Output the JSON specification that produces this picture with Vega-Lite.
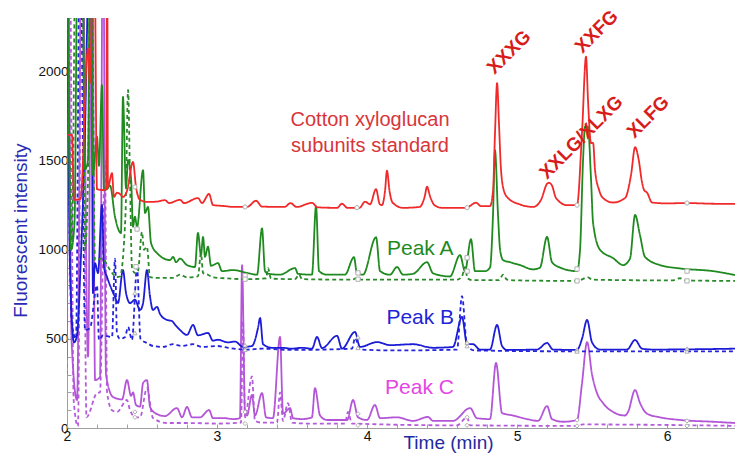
{
"$schema":"https://vega.github.io/schema/vega-lite/v6.json",
"width":668,"height":410,
"autosize":{"type":"none"},
"padding":{"left":67,"top":18,"right":0,"bottom":25},
"background":"white",
"config":{"view":{"stroke":null},"font":"Liberation Sans"},
"datasets":{
"lines":[
{"s":"c","t":2.0,"y":300},{"s":"c","t":2.015,"y":3000},{"s":"c","t":2.045,"y":150},{"s":"c","t":2.073,"y":10},{"s":"c","t":2.1,"y":3000},{"s":"c","t":2.13,"y":60},{"s":"c","t":2.2,"y":196},{"s":"c","t":2.22,"y":200},{"s":"c","t":2.253,"y":1500},{"s":"c","t":2.267,"y":200},{"s":"c","t":2.3,"y":100},{"s":"c","t":2.333,"y":90},{"s":"c","t":2.4,"y":157},{"s":"c","t":2.42,"y":100},{"s":"c","t":2.46,"y":60},{"s":"c","t":2.487,"y":60},{"s":"c","t":2.533,"y":224},{"s":"c","t":2.573,"y":56},{"s":"c","t":2.667,"y":28},{"s":"c","t":2.8,"y":28},{"s":"c","t":3.0,"y":25},{"s":"c","t":3.16,"y":30},{"s":"c","t":3.173,"y":600},{"s":"c","t":3.187,"y":60},{"s":"c","t":3.233,"y":290},{"s":"c","t":3.253,"y":40},{"s":"c","t":3.3,"y":30},{"s":"c","t":3.4,"y":30},{"s":"c","t":3.42,"y":200},{"s":"c","t":3.44,"y":40},{"s":"c","t":3.473,"y":140},{"s":"c","t":3.5,"y":30},{"s":"c","t":3.6,"y":25},{"s":"c","t":3.853,"y":25},{"s":"c","t":3.873,"y":90},{"s":"c","t":3.9,"y":25},{"s":"c","t":4.6,"y":15},{"s":"c","t":4.667,"y":60},{"s":"c","t":4.687,"y":15},{"s":"c","t":5.4,"y":12},{"s":"c","t":5.44,"y":20},{"s":"c","t":6.453,"y":12},
{"s":"C","t":2.0,"y":400},{"s":"C","t":2.005,"y":3000},{"s":"C","t":2.03,"y":500},{"s":"C","t":2.067,"y":157},{"s":"C","t":2.1,"y":3000},{"s":"C","t":2.14,"y":400},{"s":"C","t":2.167,"y":3000},{"s":"C","t":2.187,"y":269},{"s":"C","t":2.22,"y":285},{"s":"C","t":2.24,"y":3000},{"s":"C","t":2.26,"y":300},{"s":"C","t":2.307,"y":174},{"s":"C","t":2.367,"y":160},{"s":"C","t":2.4,"y":269},{"s":"C","t":2.427,"y":180},{"s":"C","t":2.44,"y":200},{"s":"C","t":2.46,"y":129},{"s":"C","t":2.487,"y":120},{"s":"C","t":2.507,"y":252},{"s":"C","t":2.533,"y":269},{"s":"C","t":2.553,"y":120},{"s":"C","t":2.587,"y":84},{"s":"C","t":2.653,"y":67},{"s":"C","t":2.733,"y":112},{"s":"C","t":2.767,"y":60},{"s":"C","t":2.8,"y":118},{"s":"C","t":2.833,"y":60},{"s":"C","t":2.887,"y":60},{"s":"C","t":2.947,"y":101},{"s":"C","t":2.973,"y":55},{"s":"C","t":3.053,"y":55},{"s":"C","t":3.107,"y":50},{"s":"C","t":3.153,"y":55},{"s":"C","t":3.167,"y":914},{"s":"C","t":3.187,"y":80},{"s":"C","t":3.2,"y":70},{"s":"C","t":3.233,"y":185},{"s":"C","t":3.253,"y":70},{"s":"C","t":3.3,"y":196},{"s":"C","t":3.327,"y":60},{"s":"C","t":3.373,"y":55},{"s":"C","t":3.42,"y":511},{"s":"C","t":3.44,"y":80},{"s":"C","t":3.487,"y":112},{"s":"C","t":3.507,"y":55},{"s":"C","t":3.567,"y":50},{"s":"C","t":3.633,"y":60},{"s":"C","t":3.653,"y":224},{"s":"C","t":3.687,"y":70},{"s":"C","t":3.733,"y":45},{"s":"C","t":3.867,"y":45},{"s":"C","t":3.907,"y":157},{"s":"C","t":3.94,"y":60},{"s":"C","t":4.0,"y":45},{"s":"C","t":4.053,"y":129},{"s":"C","t":4.087,"y":55},{"s":"C","t":4.2,"y":60},{"s":"C","t":4.307,"y":40},{"s":"C","t":4.407,"y":62},{"s":"C","t":4.44,"y":40},{"s":"C","t":4.573,"y":40},{"s":"C","t":4.687,"y":112},{"s":"C","t":4.733,"y":55},{"s":"C","t":4.82,"y":50},{"s":"C","t":4.86,"y":365},{"s":"C","t":4.9,"y":84},{"s":"C","t":4.973,"y":70},{"s":"C","t":5.067,"y":50},{"s":"C","t":5.14,"y":40},{"s":"C","t":5.2,"y":123},{"s":"C","t":5.233,"y":50},{"s":"C","t":5.307,"y":35},{"s":"C","t":5.4,"y":45},{"s":"C","t":5.433,"y":250},{"s":"C","t":5.467,"y":482},{"s":"C","t":5.5,"y":300},{"s":"C","t":5.533,"y":196},{"s":"C","t":5.573,"y":140},{"s":"C","t":5.64,"y":90},{"s":"C","t":5.72,"y":70},{"s":"C","t":5.74,"y":90},{"s":"C","t":5.787,"y":213},{"s":"C","t":5.82,"y":140},{"s":"C","t":5.867,"y":80},{"s":"C","t":5.953,"y":60},{"s":"C","t":6.087,"y":45},{"s":"C","t":6.307,"y":35},{"s":"C","t":6.453,"y":28},
{"s":"b","t":2.0,"y":3000},{"s":"b","t":2.03,"y":600},{"s":"b","t":2.06,"y":500},{"s":"b","t":2.087,"y":3000},{"s":"b","t":2.12,"y":550},{"s":"b","t":2.153,"y":560},{"s":"b","t":2.2,"y":800},{"s":"b","t":2.213,"y":494},{"s":"b","t":2.24,"y":520},{"s":"b","t":2.3,"y":510},{"s":"b","t":2.32,"y":950},{"s":"b","t":2.333,"y":533},{"s":"b","t":2.353,"y":500},{"s":"b","t":2.387,"y":510},{"s":"b","t":2.407,"y":567},{"s":"b","t":2.433,"y":494},{"s":"b","t":2.467,"y":900},{"s":"b","t":2.49,"y":500},{"s":"b","t":2.533,"y":477},{"s":"b","t":2.573,"y":460},{"s":"b","t":2.64,"y":455},{"s":"b","t":2.707,"y":470},{"s":"b","t":2.767,"y":460},{"s":"b","t":2.84,"y":470},{"s":"b","t":2.9,"y":455},{"s":"b","t":3.0,"y":460},{"s":"b","t":3.073,"y":450},{"s":"b","t":3.2,"y":440},{"s":"b","t":3.3,"y":445},{"s":"b","t":3.5,"y":438},{"s":"b","t":3.9,"y":445},{"s":"b","t":3.92,"y":505},{"s":"b","t":3.953,"y":440},{"s":"b","t":4.2,"y":435},{"s":"b","t":4.6,"y":440},{"s":"b","t":4.633,"y":740},{"s":"b","t":4.667,"y":460},{"s":"b","t":4.72,"y":435},{"s":"b","t":5.4,"y":430},{"s":"b","t":6.453,"y":430},
{"s":"B","t":2.0,"y":3000},{"s":"B","t":2.02,"y":900},{"s":"B","t":2.047,"y":480},{"s":"B","t":2.067,"y":520},{"s":"B","t":2.09,"y":900},{"s":"B","t":2.115,"y":1500},{"s":"B","t":2.16,"y":3000},{"s":"B","t":2.173,"y":757},{"s":"B","t":2.187,"y":925},{"s":"B","t":2.207,"y":869},{"s":"B","t":2.233,"y":1251},{"s":"B","t":2.247,"y":900},{"s":"B","t":2.267,"y":847},{"s":"B","t":2.32,"y":735},{"s":"B","t":2.34,"y":701},{"s":"B","t":2.373,"y":886},{"s":"B","t":2.393,"y":760},{"s":"B","t":2.42,"y":701},{"s":"B","t":2.453,"y":720},{"s":"B","t":2.487,"y":662},{"s":"B","t":2.507,"y":700},{"s":"B","t":2.533,"y":886},{"s":"B","t":2.553,"y":740},{"s":"B","t":2.573,"y":662},{"s":"B","t":2.6,"y":680},{"s":"B","t":2.62,"y":640},{"s":"B","t":2.667,"y":606},{"s":"B","t":2.7,"y":600},{"s":"B","t":2.72,"y":580},{"s":"B","t":2.753,"y":550},{"s":"B","t":2.8,"y":522},{"s":"B","t":2.84,"y":578},{"s":"B","t":2.873,"y":520},{"s":"B","t":2.94,"y":533},{"s":"B","t":2.973,"y":490},{"s":"B","t":3.007,"y":495},{"s":"B","t":3.073,"y":480},{"s":"B","t":3.12,"y":485},{"s":"B","t":3.173,"y":455},{"s":"B","t":3.233,"y":460},{"s":"B","t":3.273,"y":560},{"s":"B","t":3.287,"y":617},{"s":"B","t":3.307,"y":470},{"s":"B","t":3.367,"y":450},{"s":"B","t":3.433,"y":450},{"s":"B","t":3.5,"y":445},{"s":"B","t":3.567,"y":450},{"s":"B","t":3.633,"y":445},{"s":"B","t":3.667,"y":511},{"s":"B","t":3.7,"y":448},{"s":"B","t":3.8,"y":517},{"s":"B","t":3.833,"y":445},{"s":"B","t":3.92,"y":539},{"s":"B","t":3.953,"y":455},{"s":"B","t":4.067,"y":482},{"s":"B","t":4.153,"y":465},{"s":"B","t":4.307,"y":470},{"s":"B","t":4.44,"y":450},{"s":"B","t":4.573,"y":455},{"s":"B","t":4.633,"y":623},{"s":"B","t":4.667,"y":470},{"s":"B","t":4.707,"y":470},{"s":"B","t":4.753,"y":440},{"s":"B","t":4.82,"y":440},{"s":"B","t":4.867,"y":578},{"s":"B","t":4.9,"y":460},{"s":"B","t":4.933,"y":438},{"s":"B","t":5.133,"y":440},{"s":"B","t":5.2,"y":477},{"s":"B","t":5.24,"y":440},{"s":"B","t":5.4,"y":438},{"s":"B","t":5.433,"y":500},{"s":"B","t":5.467,"y":606},{"s":"B","t":5.5,"y":480},{"s":"B","t":5.553,"y":440},{"s":"B","t":5.733,"y":440},{"s":"B","t":5.787,"y":494},{"s":"B","t":5.833,"y":445},{"s":"B","t":5.907,"y":440},{"s":"B","t":6.453,"y":445},
{"s":"a","t":2.0,"y":3000},{"s":"a","t":2.033,"y":1050},{"s":"a","t":2.06,"y":3000},{"s":"a","t":2.1,"y":3000},{"s":"a","t":2.12,"y":1000},{"s":"a","t":2.14,"y":1400},{"s":"a","t":2.16,"y":3000},{"s":"a","t":2.187,"y":940},{"s":"a","t":2.227,"y":950},{"s":"a","t":2.247,"y":942},{"s":"a","t":2.287,"y":886},{"s":"a","t":2.333,"y":847},{"s":"a","t":2.353,"y":850},{"s":"a","t":2.39,"y":1200},{"s":"a","t":2.407,"y":1896},{"s":"a","t":2.42,"y":1400},{"s":"a","t":2.433,"y":903},{"s":"a","t":2.453,"y":869},{"s":"a","t":2.473,"y":880},{"s":"a","t":2.5,"y":1100},{"s":"a","t":2.513,"y":1000},{"s":"a","t":2.533,"y":1017},{"s":"a","t":2.553,"y":847},{"s":"a","t":2.6,"y":842},{"s":"a","t":2.707,"y":842},{"s":"a","t":2.753,"y":860},{"s":"a","t":2.8,"y":845},{"s":"a","t":2.873,"y":850},{"s":"a","t":2.893,"y":980},{"s":"a","t":2.907,"y":870},{"s":"a","t":2.94,"y":860},{"s":"a","t":2.973,"y":845},{"s":"a","t":3.05,"y":840},{"s":"a","t":3.2,"y":835},{"s":"a","t":3.327,"y":840},{"s":"a","t":3.34,"y":897},{"s":"a","t":3.36,"y":838},{"s":"a","t":3.52,"y":835},{"s":"a","t":3.547,"y":860},{"s":"a","t":3.567,"y":835},{"s":"a","t":3.9,"y":832},{"s":"a","t":3.94,"y":845},{"s":"a","t":3.96,"y":832},{"s":"a","t":4.6,"y":832},{"s":"a","t":4.633,"y":850},{"s":"a","t":4.653,"y":903},{"s":"a","t":4.67,"y":840},{"s":"a","t":4.7,"y":830},{"s":"a","t":4.88,"y":830},{"s":"a","t":4.907,"y":860},{"s":"a","t":4.933,"y":832},{"s":"a","t":5.0,"y":828},{"s":"a","t":5.4,"y":825},{"s":"a","t":5.473,"y":845},{"s":"a","t":5.5,"y":832},{"s":"a","t":6.033,"y":828},{"s":"a","t":6.087,"y":840},{"s":"a","t":6.12,"y":828},{"s":"a","t":6.453,"y":825},
{"s":"A","t":2.0,"y":3000},{"s":"A","t":2.027,"y":1000},{"s":"A","t":2.05,"y":1150},{"s":"A","t":2.073,"y":3000},{"s":"A","t":2.1,"y":3000},{"s":"A","t":2.12,"y":1450},{"s":"A","t":2.14,"y":1500},{"s":"A","t":2.155,"y":3000},{"s":"A","t":2.173,"y":1420},{"s":"A","t":2.2,"y":1634},{"s":"A","t":2.213,"y":1470},{"s":"A","t":2.233,"y":1924},{"s":"A","t":2.247,"y":1335},{"s":"A","t":2.267,"y":1340},{"s":"A","t":2.287,"y":1360},{"s":"A","t":2.32,"y":1185},{"s":"A","t":2.36,"y":1094},{"s":"A","t":2.373,"y":1858},{"s":"A","t":2.393,"y":1350},{"s":"A","t":2.407,"y":1503},{"s":"A","t":2.427,"y":1400},{"s":"A","t":2.44,"y":1129},{"s":"A","t":2.453,"y":1185},{"s":"A","t":2.467,"y":1128},{"s":"A","t":2.507,"y":1447},{"s":"A","t":2.52,"y":1206},{"s":"A","t":2.54,"y":1240},{"s":"A","t":2.56,"y":1038},{"s":"A","t":2.6,"y":981},{"s":"A","t":2.687,"y":942},{"s":"A","t":2.707,"y":960},{"s":"A","t":2.727,"y":930},{"s":"A","t":2.753,"y":950},{"s":"A","t":2.8,"y":914},{"s":"A","t":2.853,"y":903},{"s":"A","t":2.873,"y":1094},{"s":"A","t":2.893,"y":970},{"s":"A","t":2.907,"y":1072},{"s":"A","t":2.92,"y":960},{"s":"A","t":2.94,"y":1017},{"s":"A","t":2.96,"y":910},{"s":"A","t":3.007,"y":925},{"s":"A","t":3.033,"y":880},{"s":"A","t":3.107,"y":886},{"s":"A","t":3.2,"y":870},{"s":"A","t":3.267,"y":860},{"s":"A","t":3.3,"y":1120},{"s":"A","t":3.32,"y":880},{"s":"A","t":3.34,"y":866},{"s":"A","t":3.42,"y":860},{"s":"A","t":3.52,"y":897},{"s":"A","t":3.54,"y":865},{"s":"A","t":3.633,"y":860},{"s":"A","t":3.66,"y":1245},{"s":"A","t":3.68,"y":880},{"s":"A","t":3.733,"y":860},{"s":"A","t":3.853,"y":860},{"s":"A","t":3.913,"y":958},{"s":"A","t":3.933,"y":868},{"s":"A","t":3.973,"y":860},{"s":"A","t":4.06,"y":1070},{"s":"A","t":4.087,"y":880},{"s":"A","t":4.153,"y":860},{"s":"A","t":4.2,"y":903},{"s":"A","t":4.24,"y":860},{"s":"A","t":4.307,"y":865},{"s":"A","t":4.4,"y":930},{"s":"A","t":4.44,"y":868},{"s":"A","t":4.553,"y":850},{"s":"A","t":4.62,"y":970},{"s":"A","t":4.653,"y":880},{"s":"A","t":4.693,"y":1059},{"s":"A","t":4.72,"y":880},{"s":"A","t":4.787,"y":880},{"s":"A","t":4.82,"y":900},{"s":"A","t":4.84,"y":1200},{"s":"A","t":4.853,"y":1559},{"s":"A","t":4.873,"y":1200},{"s":"A","t":4.887,"y":1000},{"s":"A","t":4.907,"y":942},{"s":"A","t":4.953,"y":930},{"s":"A","t":5.02,"y":914},{"s":"A","t":5.107,"y":890},{"s":"A","t":5.153,"y":900},{"s":"A","t":5.2,"y":1072},{"s":"A","t":5.233,"y":930},{"s":"A","t":5.287,"y":900},{"s":"A","t":5.4,"y":880},{"s":"A","t":5.42,"y":1000},{"s":"A","t":5.44,"y":1500},{"s":"A","t":5.453,"y":1690},{"s":"A","t":5.473,"y":1690},{"s":"A","t":5.493,"y":1400},{"s":"A","t":5.507,"y":1150},{"s":"A","t":5.553,"y":1000},{"s":"A","t":5.64,"y":953},{"s":"A","t":5.707,"y":914},{"s":"A","t":5.753,"y":950},{"s":"A","t":5.787,"y":1195},{"s":"A","t":5.82,"y":1080},{"s":"A","t":5.853,"y":960},{"s":"A","t":5.953,"y":914},{"s":"A","t":6.087,"y":895},{"s":"A","t":6.307,"y":880},{"s":"A","t":6.453,"y":858},
{"s":"R","t":2.0,"y":1644},{"s":"R","t":2.033,"y":1644},{"s":"R","t":2.047,"y":1280},{"s":"R","t":2.09,"y":1285},{"s":"R","t":2.14,"y":2130},{"s":"R","t":2.153,"y":1935},{"s":"R","t":2.18,"y":3000},{"s":"R","t":2.2,"y":1340},{"s":"R","t":2.24,"y":1335},{"s":"R","t":2.262,"y":1340},{"s":"R","t":2.267,"y":3000},{"s":"R","t":2.273,"y":1352},{"s":"R","t":2.3,"y":1430},{"s":"R","t":2.313,"y":1296},{"s":"R","t":2.333,"y":1320},{"s":"R","t":2.353,"y":1313},{"s":"R","t":2.373,"y":1296},{"s":"R","t":2.4,"y":1330},{"s":"R","t":2.44,"y":1493},{"s":"R","t":2.46,"y":1352},{"s":"R","t":2.487,"y":1280},{"s":"R","t":2.533,"y":1268},{"s":"R","t":2.6,"y":1270},{"s":"R","t":2.653,"y":1278},{"s":"R","t":2.68,"y":1262},{"s":"R","t":2.753,"y":1280},{"s":"R","t":2.78,"y":1262},{"s":"R","t":2.873,"y":1290},{"s":"R","t":2.9,"y":1262},{"s":"R","t":2.947,"y":1313},{"s":"R","t":2.973,"y":1251},{"s":"R","t":3.05,"y":1245},{"s":"R","t":3.107,"y":1240},{"s":"R","t":3.2,"y":1240},{"s":"R","t":3.26,"y":1275},{"s":"R","t":3.3,"y":1242},{"s":"R","t":3.45,"y":1240},{"s":"R","t":3.49,"y":1262},{"s":"R","t":3.53,"y":1240},{"s":"R","t":3.633,"y":1263},{"s":"R","t":3.67,"y":1238},{"s":"R","t":3.8,"y":1235},{"s":"R","t":3.833,"y":1258},{"s":"R","t":3.87,"y":1235},{"s":"R","t":3.95,"y":1235},{"s":"R","t":3.987,"y":1270},{"s":"R","t":4.02,"y":1255},{"s":"R","t":4.06,"y":1340},{"s":"R","t":4.085,"y":1255},{"s":"R","t":4.1,"y":1250},{"s":"R","t":4.12,"y":1330},{"s":"R","t":4.133,"y":1443},{"s":"R","t":4.15,"y":1330},{"s":"R","t":4.17,"y":1265},{"s":"R","t":4.24,"y":1235},{"s":"R","t":4.35,"y":1240},{"s":"R","t":4.385,"y":1300},{"s":"R","t":4.4,"y":1354},{"s":"R","t":4.42,"y":1300},{"s":"R","t":4.45,"y":1250},{"s":"R","t":4.5,"y":1235},{"s":"R","t":4.66,"y":1235},{"s":"R","t":4.727,"y":1264},{"s":"R","t":4.76,"y":1245},{"s":"R","t":4.82,"y":1245},{"s":"R","t":4.84,"y":1330},{"s":"R","t":4.853,"y":1650},{"s":"R","t":4.867,"y":1934},{"s":"R","t":4.88,"y":1700},{"s":"R","t":4.893,"y":1450},{"s":"R","t":4.913,"y":1330},{"s":"R","t":4.94,"y":1290},{"s":"R","t":5.02,"y":1254},{"s":"R","t":5.107,"y":1240},{"s":"R","t":5.16,"y":1280},{"s":"R","t":5.2,"y":1370},{"s":"R","t":5.213,"y":1376},{"s":"R","t":5.233,"y":1360},{"s":"R","t":5.26,"y":1290},{"s":"R","t":5.333,"y":1250},{"s":"R","t":5.4,"y":1250},{"s":"R","t":5.433,"y":1654},{"s":"R","t":5.46,"y":2083},{"s":"R","t":5.473,"y":1840},{"s":"R","t":5.493,"y":1598},{"s":"R","t":5.507,"y":1600},{"s":"R","t":5.52,"y":1447},{"s":"R","t":5.547,"y":1335},{"s":"R","t":5.573,"y":1290},{"s":"R","t":5.64,"y":1265},{"s":"R","t":5.72,"y":1290},{"s":"R","t":5.76,"y":1420},{"s":"R","t":5.787,"y":1575},{"s":"R","t":5.81,"y":1510},{"s":"R","t":5.833,"y":1380},{"s":"R","t":5.847,"y":1335},{"s":"R","t":5.867,"y":1320},{"s":"R","t":5.9,"y":1265},{"s":"R","t":6.0,"y":1260},{"s":"R","t":6.133,"y":1262},{"s":"R","t":6.3,"y":1258},{"s":"R","t":6.453,"y":1257}
],
"markers":[
{"s":"R","t":2.453,"y":1352},{"s":"R","t":3.187,"y":1240},{"s":"R","t":3.933,"y":1236},{"s":"R","t":4.667,"y":1236},{"s":"R","t":5.4,"y":1250},{"s":"R","t":6.133,"y":1262},
{"s":"A","t":2.467,"y":1116},{"s":"A","t":3.187,"y":855},{"s":"A","t":3.94,"y":870},{"s":"A","t":4.667,"y":955},{"s":"A","t":5.4,"y":892},{"s":"A","t":6.133,"y":880},
{"s":"a","t":2.46,"y":905},{"s":"a","t":3.187,"y":835},{"s":"a","t":3.94,"y":835},{"s":"a","t":4.667,"y":880},{"s":"a","t":5.4,"y":825},{"s":"a","t":6.133,"y":825},
{"s":"B","t":2.453,"y":757},{"s":"B","t":3.187,"y":465},{"s":"B","t":3.94,"y":510},{"s":"B","t":4.667,"y":480},{"s":"B","t":5.4,"y":440},{"s":"B","t":6.133,"y":445},
{"s":"b","t":2.453,"y":533},{"s":"b","t":3.187,"y":440},{"s":"b","t":3.94,"y":450},{"s":"b","t":4.667,"y":460},{"s":"b","t":5.4,"y":430},{"s":"b","t":6.133,"y":430},
{"s":"C","t":2.453,"y":90},{"s":"C","t":3.187,"y":90},{"s":"C","t":3.94,"y":80},{"s":"C","t":4.667,"y":60},{"s":"C","t":5.4,"y":45},{"s":"C","t":6.133,"y":40},
{"s":"c","t":2.453,"y":60},{"s":"c","t":3.187,"y":25},{"s":"c","t":3.94,"y":15},{"s":"c","t":4.667,"y":15},{"s":"c","t":5.4,"y":12},{"s":"c","t":6.133,"y":12}
]
},
"encoding":{
"x":{"field":"t","type":"quantitative","scale":{"domain":[2,6.453],"nice":false,"zero":false},
"axis":{"values":[2,2.2,2.4,2.6,2.8,3,3.2,3.4,3.6,3.8,4,4.2,4.4,4.6,4.8,5,5.2,5.4,5.6,5.8,6,6.2,6.4],
"labelExpr":"abs(datum.value-round(datum.value))<0.01 ? format(datum.value,'d') : ''",
"tickSize":-4,"tickColor":"#a0a0a0","domainColor":"#a0a0a0","labelFontSize":14,"labelColor":"#111111","labelPadding":5,"labelFlush":false,"labelOverlap":false,"grid":false,
"title":"Time (min)","titleColor":"#1f2aa0","titleFontSize":19,"titleFontWeight":"normal","titleX":381,"titleY":20,"titleAlign":"center","titleBaseline":"alphabetic"}},
"y":{"field":"y","type":"quantitative","scale":{"domain":[0,2300],"nice":false},
"axis":{"values":[0,100,200,300,400,500,600,700,800,900,1000,1100,1200,1300,1400,1500,1600,1700,1800,1900,2000,2100,2200,2300],
"format":"d","labelExpr":"datum.value % 500 == 0 ? datum.label : ''",
"tickSize":-4,"tickColor":"#a0a0a0","domainColor":"#a0a0a0","labelFontSize":13.5,"labelColor":"#111111","labelPadding":3,"labelFlush":false,"labelOverlap":false,"grid":false,
"title":"Fluorescent intensity","titleColor":"#2a2ab5","titleFontSize":19,"titleFontWeight":"normal","titleX":-47,"titleY":212,"titleAlign":"center","titleBaseline":"middle","titleAngle":-90}}
},
"layer":[
{"data":{"name":"lines"},"mark":{"type":"line","clip":true,"interpolate":"monotone","strokeWidth":1.8},
"encoding":{
"color":{"field":"s","type":"nominal","scale":{"domain":["c","C","b","B","a","A","R"],"range":["#b45ddb","#b455d8","#2424dc","#1c1cd6","#2a8a2a","#1f8a1f","#f02a2a"]},"legend":null},
"strokeDash":{"field":"s","type":"nominal","scale":{"domain":["c","C","b","B","a","A","R"],"range":[[4,3],[1,0],[4,3],[1,0],[4,3],[1,0],[1,0]]},"legend":null}}},
{"data":{"name":"markers"},"mark":{"type":"point","filled":false,"size":18,"stroke":"#b0b0b0","strokeWidth":1,"fill":"white","fillOpacity":1},
"encoding":{"shape":{"field":"s","type":"nominal","scale":{"domain":["R","A","a","B","b","C","c"],"range":["circle","square","square","triangle-up","triangle-up","diamond","diamond"]},"legend":null}}},
{"data":{"values":[{"label":"Cotton xyloglucan","t":4.02,"y":1694},{"label":"subunits standard","t":4.02,"y":1548}]},
"mark":{"type":"text","fontSize":20,"color":"#d8353b","align":"center","baseline":"alphabetic"},"encoding":{"text":{"field":"label"}}},
{"data":{"values":[{"label":"Peak A","t":4.355,"y":970}]},"mark":{"type":"text","fontSize":21,"color":"#1f8a1f","align":"center","baseline":"alphabetic"},"encoding":{"text":{"field":"label"}}},
{"data":{"values":[{"label":"Peak B","t":4.355,"y":583}]},"mark":{"type":"text","fontSize":21,"color":"#1f24d8","align":"center","baseline":"alphabetic"},"encoding":{"text":{"field":"label"}}},
{"data":{"values":[{"label":"Peak C","t":4.35,"y":191}]},"mark":{"type":"text","fontSize":21,"color":"#e445e4","align":"center","baseline":"alphabetic"},"encoding":{"text":{"field":"label"}}},
{"data":{"values":[{"label":"XXXG","t":4.85,"y":1980},{"label":"XXFG","t":5.437,"y":2098},{"label":"XXLG/XLXG","t":5.2,"y":1391},{"label":"XLFG","t":5.783,"y":1621}]},
"mark":{"type":"text","fontSize":19,"fontWeight":"bold","color":"#d81c1c","align":"left","baseline":"alphabetic","angle":-45},"encoding":{"text":{"field":"label"}}}
]
}
